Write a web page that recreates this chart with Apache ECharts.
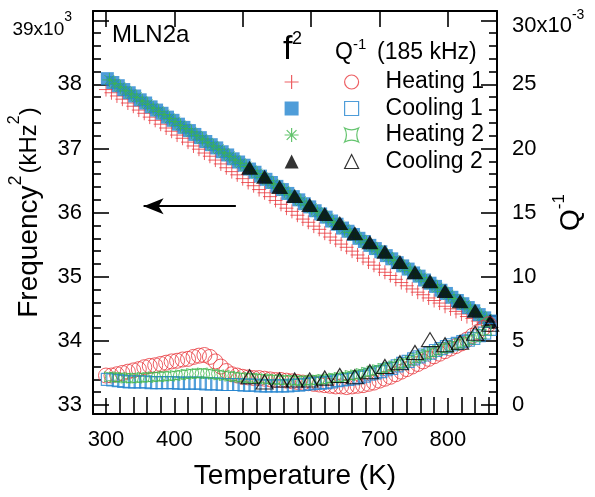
<!DOCTYPE html>
<html>
<head>
<meta charset="utf-8">
<script src="https://cdn.jsdelivr.net/npm/echarts@6.0.0/dist/echarts.min.js"></script>
<style>
  html, body { margin: 0; padding: 0; background: #fff; }
  #chart { width: 595px; height: 497px; }
</style>
</head>
<body>
<div id="chart"></div>
<script>
// MLN2a resonance at 185 kHz: squared frequency (10^3 kHz^2) and internal friction Q^-1 (10^-3)

// Heating 1
const heat1T = [300,308,316,324,332,340,348,356,364,372, 380,388,396,404,412,420,428,436,444,452,
  460,468,476,484,492,500,508,516,524,532, 540,548,556,564,572,580,588,596,604,612,
  620,628,636,644,652,660,668,676,684,692, 700,708,716,724,732,740,748,756,764,772,
  780,788,796,804,812,820,828,836,844,852, 860];
const heat1F2 = [37.92,37.87,37.82,37.77,37.71,37.66,37.60,37.55,37.49,37.44,
  37.38,37.32,37.27,37.21,37.16,37.10,37.04,36.99,36.93,36.88,
  36.82,36.76,36.70,36.64,36.59,36.53,36.47,36.42,36.36,36.31,
  36.25,36.19,36.13,36.07,36.02,35.96,35.90,35.85,35.79,35.74,
  35.68,35.62,35.57,35.51,35.46,35.40,35.34,35.29,35.23,35.18,
  35.12,35.07,35.02,34.96,34.91,34.86,34.81,34.76,34.72,34.67,
  34.63,34.59,34.54,34.50,34.46,34.42,34.38,34.35,34.31,34.28, 34.24];
const heat1Q = [2.3,2.3,2.4,2.5,2.6,2.7,2.8,2.95,3.05,3.1,
  3.2,3.3,3.4,3.45,3.55,3.6,3.75,3.85,3.9,3.75,
  3.4,3.0,2.65,2.4,2.3,2.2,2.15,2.1,2.1,2.05,
  2.0,1.95,1.95,1.9,1.85,1.8,1.75,1.7,1.65,1.6,
  1.55,1.5,1.45,1.45,1.4,1.45,1.5,1.55,1.65,1.75,
  1.9,2.05,2.2,2.4,2.6,2.8,3.0,3.2,3.4,3.6,
  3.8,4.0,4.2,4.4,4.6,4.8,5.1,5.4,5.7,6.0, 6.3];

// Cooling 1
const cool1T = [302,310,318,326,334,342,350,358,366,374, 382,390,398,406,414,422,430,438,446,454,
  462,470,478,486,494,502,510,518,526,534, 542,550,558,566,574,582,590,598,606,614,
  622,630,638,646,654,662,670,678,686,694, 702,710,718,726,734,742,750,758,766,774,
  782,790,798,806,814,822,830,838,846,854, 862];
const cool1F2 = [38.09,38.03,37.98,37.92,37.87,37.82,37.76,37.71,37.65,37.60,
  37.55,37.49,37.44,37.38,37.33,37.28,37.22,37.17,37.11,37.06,
  37.01,36.95,36.90,36.84,36.79,36.74,36.68,36.63,36.57,36.52,
  36.47,36.41,36.36,36.30,36.25,36.20,36.14,36.09,36.03,35.98,
  35.93,35.87,35.82,35.76,35.71,35.66,35.60,35.55,35.49,35.44,
  35.39,35.33,35.28,35.22,35.17,35.12,35.06,35.01,34.95,34.90,
  34.85,34.79,34.74,34.68,34.63,34.58,34.52,34.47,34.41,34.36, 34.31];
const cool1Q = [2.0,1.95,1.9,1.85,1.8,1.8,1.8,1.8,1.75,1.75,
  1.75,1.75,1.75,1.7,1.7,1.7,1.7,1.7,1.65,1.65,
  1.65,1.6,1.6,1.6,1.6,1.55,1.55,1.55,1.5,1.5,
  1.5,1.5,1.5,1.5,1.55,1.55,1.6,1.65,1.7,1.7,
  1.75,1.8,1.9,1.95,2.0,2.05,2.15,2.25,2.4,2.5,
  2.6,2.75,2.85,3.05,3.25,3.4,3.6,3.75,3.9,4.05,
  4.25,4.4,4.55,4.7,4.8,4.95,5.05,5.2,5.4,5.6, 5.9];

// Heating 2
const heat2T = [305,313,321,329,337,345,353,361,369,377, 385,393,401,409,417,425,433,441,449,457,
  465,473,481,489,497,505,513,521,529,537, 545,553,561,569,577,585,593,601,609,617,
  625,633,641,649,657,665,673,681,689,697, 705,713,721,729,737,745,753,761,769,777,
  785,793,801,809,817,825,833,841,849,857];
const heat2F2 = [38.07,38.01,37.96,37.90,37.85,37.80,37.74,37.69,37.63,37.58,
  37.53,37.47,37.42,37.36,37.31,37.26,37.20,37.15,37.09,37.04,
  36.99,36.93,36.88,36.82,36.77,36.72,36.66,36.61,36.55,36.50,
  36.45,36.39,36.34,36.28,36.23,36.18,36.12,36.07,36.01,35.96,
  35.91,35.85,35.80,35.74,35.69,35.64,35.58,35.53,35.47,35.42,
  35.37,35.31,35.26,35.20,35.15,35.10,35.04,34.99,34.93,34.88,
  34.83,34.77,34.72,34.66,34.61,34.56,34.50,34.45,34.39,34.34];
const heat2Q = [2.2,2.15,2.15,2.1,2.1,2.1,2.15,2.15,2.2,2.2,
  2.25,2.25,2.3,2.35,2.4,2.45,2.45,2.5,2.45,2.4,
  2.35,2.3,2.25,2.2,2.15,2.1,2.1,2.05,2.05,2.0,
  2.0,1.95,1.95,1.95,1.9,1.9,1.9,1.95,1.95,2.0,
  2.05,2.1,2.15,2.2,2.3,2.35,2.45,2.55,2.65,2.75,
  2.85,2.95,3.05,3.2,3.3,3.45,3.65,3.8,3.95,4.1,
  4.25,4.4,4.5,4.65,4.8,4.95,5.1,5.3,5.55,5.8];

// Cooling 2
const cool2T = [510,532,554,576,598,620,642,664,686,708,730,752,774,796,818,840,862];
const cool2F2 = [36.70,36.56,36.40,36.26,36.12,35.98,35.84,35.68,35.54,35.39,35.23,35.07,34.93,34.78,34.62,34.47,34.31];
const cool2Q = [2.2,1.8,1.95,1.95,1.95,2.1,2.3,2.2,2.6,3.0,3.3,4.1,5.1,4.7,4.9,5.6,6.3];

// Tick labels
const xTickLabels = [300, 400, 500, 600, 700, 800];
const f2TickLabels = [33, 34, 35, 36, 37, 38, 39];
const qTickLabels = [0, 5, 10, 15, 20, 25, 30];

// Arrow pointing to the f^2 axis (temperature span, f^2 level)
const arrowSpan = [490, 355];
const arrowLevel = 36.10;

const FONT = '"Liberation Sans", Arial, Helvetica, sans-serif';
const RED = '#e8373c', BLUE = '#2384cf', GREEN = '#3db54a', BLACK = '#000000';

const X_MIN = 281, X_MAX = 872;
const F_MIN = 32.86, F_MAX = 39.145;
const Q_MIN = -0.70, Q_MAX = 30.725;

function minorTicks(from, to, step, majors) {
  const out = [];
  const n = Math.round((to - from) / step);
  for (let i = 0; i <= n; i++) {
    const v = Math.round((from + i * step) * 1000) / 1000;
    if (!majors.includes(v)) out.push(v);
  }
  return out;
}
const xMinor = minorTicks(300, 860, 20, xTickLabels);
const f2Minor = minorTicks(33, 39, 0.2, f2TickLabels);
const qMinor = minorTicks(0, 30, 1, qTickLabels);

const SYM_PLUS = 'path://M6,0L6,12M0,6L12,6';
const SYM_STAR = 'path://M6,0L6,12M0,6L12,6M1.8,1.8L10.2,10.2M10.2,1.8L1.8,10.2';
const SYM_PINCH = 'path://M0,0Q5,2.6 10,0Q7.4,5 10,10Q5,7.4 0,10Q2.6,5 0,0Z';

const zip = (t, v) => t.map((x, i) => [x, v[i]]);

const axisLineStyle = { show: true, onZero: false, lineStyle: { color: BLACK, width: 2 } };
const tickLine = { color: BLACK, width: 1.6 };
const noSplit = { show: false };

function frameAxis(pos, min, max, majors, minors, isMajor, extra) {
  return Object.assign({
    type: 'value', position: pos, min: min, max: max,
    axisLine: isMajor ? axisLineStyle : { show: false },
    axisTick: { show: true, inside: true, length: isMajor ? 16 : 8,
      customValues: isMajor ? majors : minors, lineStyle: tickLine },
    axisLabel: { show: false },
    splitLine: noSplit
  }, extra || {});
}

const labelFont = { fontSize: 22, color: BLACK, fontFamily: FONT };

const option = {
  animation: false,
  backgroundColor: '#ffffff',
  textStyle: { fontFamily: FONT },
  grid: { left: 93, right: 98, top: 11, bottom: 83, containLabel: false, outerBoundsMode: 'none' },
  xAxis: [
    frameAxis('bottom', X_MIN, X_MAX, xTickLabels, xMinor, true, {
      axisLabel: Object.assign({ show: true, customValues: xTickLabels, margin: 15 }, labelFont),
      name: 'Temperature (K)', nameLocation: 'middle', nameGap: 48, nameMoveOverlap: false,
      nameTextStyle: { fontSize: 28, color: BLACK, fontFamily: FONT }
    }),
    frameAxis('bottom', X_MIN, X_MAX, xTickLabels, xMinor, false),
    frameAxis('top', X_MIN, X_MAX, xTickLabels, xMinor, true),
    frameAxis('top', X_MIN, X_MAX, xTickLabels, xMinor, false)
  ],
  yAxis: [
    frameAxis('left', F_MIN, F_MAX, f2TickLabels, f2Minor, true, {
      axisLabel: Object.assign({
        show: true, customValues: f2TickLabels, margin: 11,
        formatter: v => (v === 39 ? '{b|39x10}{s|3}' : String(v)),
        rich: {
          b: { fontSize: 19, fontFamily: FONT, color: BLACK, padding: [18, 0, 0, 0] },
          s: { fontSize: 14, fontFamily: FONT, color: BLACK, verticalAlign: 'top', padding: [8.5, 10, 0, 0] }
        }
      }, labelFont),
      name: '{a|Frequency}{s|2}{c|(kHz}{t|2}{c|)}', nameLocation: 'middle', nameGap: 41,
      nameMoveOverlap: false,
      nameTextStyle: {
        color: BLACK, fontFamily: FONT,
        rich: {
          a: { fontSize: 28, fontFamily: FONT, color: BLACK },
          s: { fontSize: 18, fontFamily: FONT, color: BLACK, verticalAlign: 'top', padding: [0, 2, 27, 0] },
          c: { fontSize: 24, fontFamily: FONT, color: BLACK },
          t: { fontSize: 16, fontFamily: FONT, color: BLACK, verticalAlign: 'top', padding: [0, 0, 22, 0] }
        }
      }
    }),
    frameAxis('left', F_MIN, F_MAX, f2TickLabels, f2Minor, false),
    frameAxis('right', Q_MIN, Q_MAX, qTickLabels, qMinor, true, {
      axisLabel: Object.assign({
        show: true, customValues: qTickLabels, margin: 15,
        formatter: v => (v === 30 ? '{b|30x10}{s|-3}' : String(v)),
        rich: {
          b: { fontSize: 22, fontFamily: FONT, color: BLACK, padding: [11, 0, 0, 0] },
          s: { fontSize: 14, fontFamily: FONT, color: BLACK, verticalAlign: 'top', padding: [4.5, 0, 0, 0] }
        }
      }, labelFont),
      name: '{q|Q}{s|-1}', nameLocation: 'middle', nameGap: 54, nameMoveOverlap: false,
      nameTextStyle: {
        color: BLACK, fontFamily: FONT,
        rich: {
          q: { fontSize: 28, fontFamily: FONT, color: BLACK },
          s: { fontSize: 17, fontFamily: FONT, color: BLACK, verticalAlign: 'top', padding: [0, 0, 24, 0] }
        }
      }
    }),
    frameAxis('right', Q_MIN, Q_MAX, qTickLabels, qMinor, false)
  ],
  legend: [
    {
      data: ['f² Heating 1', 'f² Cooling 1', 'f² Heating 2', 'f² Cooling 2'],
      orient: 'vertical', left: 284, top: 70, padding: 0,
      itemWidth: 14, itemHeight: 14, itemGap: 2.5, selectedMode: false,
      formatter: () => ' ',
      textStyle: { fontSize: 23, lineHeight: 24, fontFamily: FONT, color: BLACK },
      itemStyle: { borderWidth: 1.2 }
    },
    {
      data: ['Heating 1', 'Cooling 1', 'Heating 2', 'Cooling 2'],
      orient: 'vertical', left: 344, top: 70, padding: 0,
      itemWidth: 14, itemHeight: 14, itemGap: 2.5, selectedMode: false,
      textStyle: { fontSize: 23, lineHeight: 24, fontFamily: FONT, color: BLACK, padding: [0, 0, 0, 22] },
      itemStyle: { borderWidth: 1.2 }
    }
  ],
  graphic: [
    { type: 'text', left: 112, top: 23, style: { text: 'MLN2a', fontSize: 24, fontFamily: FONT, fill: BLACK } },
    { type: 'text', x: 283, y: 50, style: { text: 'f', fontSize: 34, fontFamily: FONT, fill: BLACK, verticalAlign: 'middle' } },
    { type: 'text', x: 292, y: 39, style: { text: '2', fontSize: 18, fontFamily: FONT, fill: BLACK, verticalAlign: 'middle' } },
    { type: 'text', x: 335, y: 52.5, style: { text: 'Q', fontSize: 23, fontFamily: FONT, fill: BLACK, verticalAlign: 'middle' } },
    { type: 'text', x: 353, y: 45, style: { text: '-1', fontSize: 15, fontFamily: FONT, fill: BLACK, verticalAlign: 'middle' } },
    { type: 'text', x: 377, y: 52.5, style: { text: '(185 kHz)', fontSize: 23, fontFamily: FONT, fill: BLACK, verticalAlign: 'middle' } }
  ],
  series: [
    {
      name: 'f² Heating 1', type: 'scatter', xAxisIndex: 0, yAxisIndex: 0,
      data: zip(heat1T, heat1F2), symbol: SYM_PLUS, symbolSize: 14,
      itemStyle: { color: 'rgba(0,0,0,0)', borderColor: RED, borderWidth: 1 },
      emphasis: { disabled: true }, silent: true,
      markLine: {
        silent: true, symbol: ['none', 'arrow'], symbolSize: [12, 20],
        label: { show: false },
        lineStyle: { color: BLACK, width: 2, type: 'solid' },
        data: [[{ coord: [arrowSpan[0], arrowLevel] }, { coord: [arrowSpan[1], arrowLevel] }]]
      }
    },
    {
      name: 'f² Cooling 1', type: 'scatter', xAxisIndex: 0, yAxisIndex: 0,
      data: zip(cool1T, cool1F2), symbol: 'rect', symbolSize: 13,
      itemStyle: { color: BLUE }, emphasis: { disabled: true }, silent: true
    },
    {
      name: 'f² Heating 2', type: 'scatter', xAxisIndex: 0, yAxisIndex: 0,
      data: zip(heat2T, heat2F2), symbol: SYM_STAR, symbolSize: 14,
      itemStyle: { color: 'rgba(0,0,0,0)', borderColor: GREEN, borderWidth: 1 },
      emphasis: { disabled: true }, silent: true
    },
    {
      name: 'f² Cooling 2', type: 'scatter', xAxisIndex: 0, yAxisIndex: 0,
      data: zip(cool2T, cool2F2), symbol: 'triangle', symbolSize: [17, 14],
      itemStyle: { color: BLACK }, emphasis: { disabled: true }, silent: true
    },
    {
      name: 'Heating 1', type: 'scatter', xAxisIndex: 0, yAxisIndex: 2,
      data: zip(heat1T, heat1Q), symbol: 'circle', symbolSize: 15,
      itemStyle: { color: 'rgba(0,0,0,0)', borderColor: RED, borderWidth: 1 },
      emphasis: { disabled: true }, silent: true
    },
    {
      name: 'Cooling 1', type: 'scatter', xAxisIndex: 0, yAxisIndex: 2,
      data: zip(cool1T, cool1Q), symbol: 'rect', symbolSize: 12,
      itemStyle: { color: 'rgba(0,0,0,0)', borderColor: BLUE, borderWidth: 1.2 },
      emphasis: { disabled: true }, silent: true
    },
    {
      name: 'Heating 2', type: 'scatter', xAxisIndex: 0, yAxisIndex: 2,
      data: zip(heat2T, heat2Q), symbol: SYM_PINCH, symbolSize: 10,
      itemStyle: { color: 'rgba(0,0,0,0)', borderColor: GREEN, borderWidth: 1 },
      emphasis: { disabled: true }, silent: true
    },
    {
      name: 'Cooling 2', type: 'scatter', xAxisIndex: 0, yAxisIndex: 2,
      data: zip(cool2T, cool2Q), symbol: 'triangle', symbolSize: [17, 14],
      itemStyle: { color: 'rgba(0,0,0,0)', borderColor: BLACK, borderWidth: 1.2 },
      emphasis: { disabled: true }, silent: true
    }
  ]
};

const chart = echarts.init(document.getElementById('chart'), null, { renderer: 'canvas' });
chart.setOption(option);
</script>
</body>
</html>
